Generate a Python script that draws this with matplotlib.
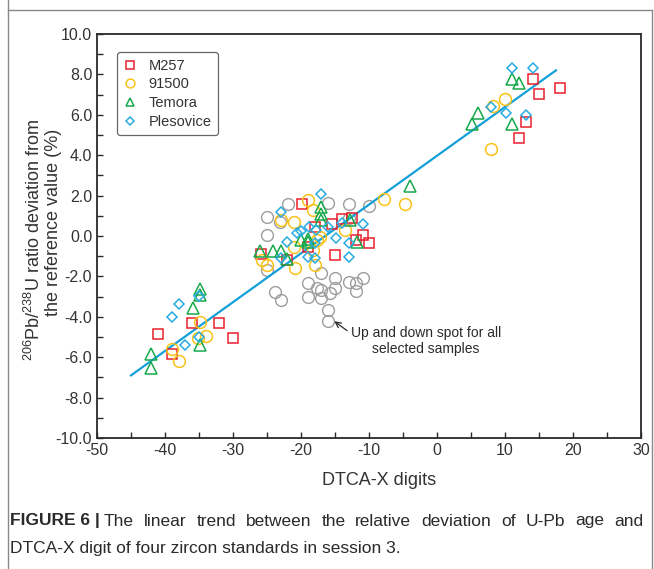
import matplotlib
matplotlib.use('Agg')
import matplotlib.pyplot as plt
from matplotlib.lines import Line2D
from matplotlib.ticker import MultipleLocator, FormatStrFormatter

plt.rcParams['font.family'] = ['Liberation Sans', 'DejaVu Sans']
plt.rcParams['mathtext.fontset'] = 'custom'
plt.rcParams['mathtext.rm'] = 'Liberation Sans'
plt.rcParams['mathtext.default'] = 'regular'
plt.rcParams['axes.unicode_minus'] = False

# values
m257_x = [-41.0, -38.9, -36.0, -32.0, -30.0,
          -25.9, -22.0, -19.9, -17.9, -18.9, -13.9, -12.5, -10.9, -10.0, -11.9, -15.0, -15.5,
          14.1, 15.0, 18.1, 13.1, 12.1]
m257_y = [-4.84, -5.84, -4.31, -4.31, -5.03,
          -0.90, -1.20, 1.58, 0.46, -0.53, 0.83, 0.90, 0.05, -0.36, -0.20, -0.94, 0.60,
          7.76, 7.01, 7.34, 5.66, 4.84]

g91500_x = [-34.9, -33.9, -35.1, -39.0, -37.9,
            -18.9, -18.2, -23.0, -21.0, -25.8, -25.0, -20.9, -18.0, -21.1, -18.2, -17.2, -17.7,
            -7.8, -4.7, -13.5,
            10.0, 8.3, 8.0]
g91500_y = [-4.24, -4.95, -5.07, -5.61, -6.17,
            1.78, 1.29, 0.79, 0.71, -1.19, -1.44, -1.60, -1.44, -0.56, -0.69, -0.03, -0.20,
            1.85, 1.60, 0.30,
            6.77, 6.45, 4.31]

temora_x = [-34.9, -34.9, -35.9, -34.9, -42.0, -42.0,
            -26.0, -24.1, -23.0, -22.0, -20.0, -19.0, -17.1, -17.0, -17.0, -12.8, -11.8, -18.9,
            -4.0,
            6.1, 5.1, 11.0, 12.1, 11.1]
temora_y = [-2.64, -2.90, -3.55, -5.40, -5.84, -6.55,
            -0.75, -0.75, -0.73, -1.15, -0.20, -0.16, 1.45, 1.10, 0.79, 0.79, -0.28, -0.28,
            2.50,
            6.10, 5.54, 7.76, 7.56, 5.54]

pleso_x = [-37.9, -38.9, -35.0, -37.0, -35.0,
           -23.0, -17.1, -22.0, -20.0, -18.8, -17.8, -17.9, -18.9, -17.9, -22.9, -16.0, -14.9,
           -14.0, -13.0, -12.9, -10.9, -20.6,
           11.1, 14.1, 8.0, 10.1, 13.1]
pleso_y = [-3.38, -3.99, -2.97, -5.38, -4.98,
           1.17, 2.06, -0.28, 0.25, 0.46, 0.30, -0.33, -1.02, -1.10, -1.10, 0.46, -0.11,
           0.63, -0.36, -1.02, 0.59, 0.13,
           8.33, 8.33, 6.40, 6.10, 5.99]

updown_x = [-21.9, -25.0, -25.0, -23.1, -25.0, -23.8, -23.0, -18.9, -18.9, -17.0, -17.7,
            -17.0, -17.0, -15.8, -15.0, -15.0, -12.9, -11.9, -10.9, -11.9, -16.0, -16.0,
            -16.0, -12.9, -10.0, -13.0]
updown_y = [1.57, 0.96, 0.05, 0.71, -1.68, -2.76, -3.17, -2.34, -3.00, -1.85, -2.59,
            -2.67, -3.05, -2.84, -2.09, -2.56, -2.26, -2.34, -2.09, -2.71, -3.66, -4.21,
            1.65, 1.58, 1.49, 0.90]

fit_x = [-45.0, 17.5]
fit_y = [-6.9, 8.2]

caption_bold = 'FIGURE 6 |'
caption_1 = 'The linear trend between the relative deviation of U-Pb age and'
caption_2 = 'DTCA-X digit of four zircon standards in session 3.'

W, H = 654, 569
fig = plt.figure(figsize=(W / 100, H / 100), dpi=100)
ax = fig.add_axes([97 / W, 1 - 438 / H, 544 / W, 404 / H])

red = '#e8212e'
yellow = '#f9c21b'
green = '#17a84b'
blue = '#29abe2'
grey = '#9d9d9d'
ink = '#2a2a2a'

ax.plot(updown_x, updown_y, 'o', ms=8.5, mfc='none', mec=grey, mew=1.0, zorder=2)
ax.plot(fit_x, fit_y, '-', color='#13a0d8', lw=1.6, zorder=3)
ax.plot(m257_x, m257_y, 's', ms=7.8, mfc='none', mec=red, mew=1.1, label='M257', zorder=4)
ax.plot(g91500_x, g91500_y, 'o', ms=8.5, mfc='none', mec=yellow, mew=1.1, label='91500', zorder=4)
ax.plot(temora_x, temora_y, '^', ms=8.5, mfc='none', mec=green, mew=1.1, label='Temora', zorder=5)
ax.plot(pleso_x, pleso_y, 'D', ms=5.2, mfc='none', mec=blue, mew=1.1, label='Plesovice', zorder=5)

ax.set_xlim(-50, 30)
ax.set_ylim(-10, 10)
ax.xaxis.set_major_locator(MultipleLocator(10))
ax.xaxis.set_minor_locator(MultipleLocator(5))
ax.yaxis.set_major_locator(MultipleLocator(2))
ax.yaxis.set_minor_locator(MultipleLocator(1))
ax.yaxis.set_major_formatter(FormatStrFormatter('%.1f'))
ax.tick_params(which='both', direction='in', length=4.5, width=1.0, labelsize=11.5,
               colors=ink, labelcolor='#333333')
ax.tick_params(which='both', top=False, right=False)
for s in ax.spines.values():
    s.set_linewidth(1.3)
    s.set_color(ink)

ax.set_xlabel('DTCA-X digits', fontsize=13, color='#333333')
ax.xaxis.set_label_coords(0.519, -0.083)

# y label as two rotated lines, placed in figure pixels
fig.text(40 / W, 1 - 240 / H, '$^{206}$Pb/$^{238}$U ratio deviation from', rotation=90,
         rotation_mode='anchor', ha='center', va='baseline', fontsize=13, color='#333333')
fig.text(58 / W, 1 - 222 / H, 'the reference value (%)', rotation=90,
         rotation_mode='anchor', ha='center', va='baseline', fontsize=13, color='#333333')

leg = ax.legend(loc='upper left', bbox_to_anchor=(0.037, 0.955), borderaxespad=0,
                fontsize=10.5, markerscale=0.75, handlelength=0.9, handletextpad=0.8,
                labelspacing=0.32, borderpad=0.45, fancybox=True, framealpha=1)
leg.get_frame().set_edgecolor('#666666')
leg.get_frame().set_linewidth(0.9)
for t in leg.get_texts():
    t.set_color('#333333')

ax.annotate('Up and down spot for all\nselected samples', xy=(-15.6, -4.1), xytext=(-1.6, -5.2),
            ha='center', va='center', fontsize=10, color=ink,
            arrowprops=dict(arrowstyle='->', color=ink, lw=0.9,
                            relpos=(0.0, 0.75), shrinkA=1, shrinkB=3))

# outer frame of the figure panel
for xs, ys in [([8, 8], [0, H]), ([8, 652], [H - 10, H - 10]), ([652, 652], [H - 10, 0])]:
    fig.add_artist(Line2D([x / W for x in xs], [y / H for y in ys], color='#888888', lw=1.0))

# caption, first line justified to the right edge
fig.canvas.draw()
r = fig.canvas.get_renderer()
y1 = 1 - 521 / H
t1 = fig.text(10 / W, y1, caption_bold, fontsize=12.5, fontweight='bold', va='center', color=ink)
x_start = t1.get_window_extent(r).x1 + 4
words = caption_1.split()
arts = [fig.text(0, y1, w, fontsize=12.5, va='center', color=ink) for w in words]
widths = [a.get_window_extent(r).width for a in arts]
gap = (643 - x_start - sum(widths)) / (len(words) - 1)
x = x_start
for a, w in zip(arts, widths):
    a.set_x(x / W)
    x += w + gap
fig.text(10 / W, 1 - 548 / H, caption_2, fontsize=12.5, va='center', color=ink)

fig.savefig('out.png', dpi=100)
